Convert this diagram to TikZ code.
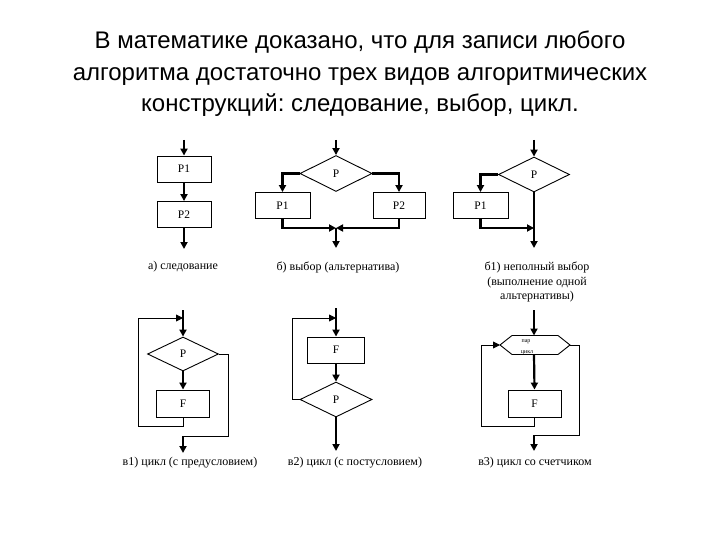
\documentclass[tikz,border=0pt]{standalone}
\usepackage{fontspec}
\setmainfont{Liberation Serif}
\newfontfamily\titlefont{Liberation Sans}
\usetikzlibrary{shapes.geometric,arrows.meta}
\frenchspacing
\begin{document}
\begin{tikzpicture}[x=1pt,y=-1pt,
  blk/.style={draw, line width=0.9pt, minimum width=54pt, minimum height=26pt, inner sep=0pt, font=\fontsize{11.5}{11.5}\selectfont},
  dia/.style={draw, diamond, line width=0.9pt, minimum width=72pt, minimum height=36pt, inner sep=0pt, font=\fontsize{11.5}{11.5}\selectfont},
  thk/.style={line width=2.2pt},
  thn/.style={line width=0.9pt},
  arr/.style={-{Triangle[length=7pt,width=7pt]}},
  lbl/.style={font=\fontsize{12}{14.5}\selectfont, align=center, inner sep=0pt},
  tinyt/.style={font=\fontsize{6}{6}\selectfont, inner sep=0pt}
]
\useasboundingbox (0,0) rectangle (720,540);
\node[font=\titlefont\fontsize{24}{31.5}\selectfont\frenchspacing, align=center] (title) at (360,74)
  {В математике доказано, что для записи любого\\алгоритма достаточно трех видов алгоритмических\\конструкций: следование, выбор, цикл.};

% a) sequence
\coordinate (a0) at (184,140);
\node[blk] (a1) at (184,169) {P1};
\node[blk] (a2) at (184,214.5) {P2};
\coordinate (a3) at (184,249);
\draw[thk,arr] (a0) -- (a1);
\draw[thk,arr] (a1) -- (a2);
\draw[thk,arr] (a2) -- (a3);
\node[lbl] (la) at (183,267) {а) следование};

% b) choice
\coordinate (b0) at (336,140);
\node[dia] (bp) at (336,173.5) {P};
\node[blk, minimum width=55pt] (b1) at (282.5,205.5) {P1};
\node[blk, minimum width=52pt] (b2) at (399,205.5) {P2};
\coordinate (bm) at (336,228);
\coordinate (bo) at (336,248);
\draw[thk,arr] (b0) -- (bp.north);
\draw[thk,arr] (bp.west) -| (b1.north);
\draw[thk,arr] (bp.east) -| (b2.north);
\draw[thk,arr] (b1.south) |- (bm);
\draw[thk,arr] (b2.south) |- (bm);
\draw[thk,arr] (bm) -- (bo);
\node[lbl] (lb) at (338,267) {б) выбор (альтернатива)};

% b1) incomplete choice
\coordinate (c0) at (534,140);
\node[dia, minimum width=71pt, minimum height=35pt] (cp) at (534,174.5) {P};
\node[blk, minimum width=55pt] (c1) at (480.5,205.5) {P1};
\coordinate (cm) at (534,228);
\coordinate (co) at (534,248);
\draw[thk,arr] (c0) -- (cp.north);
\draw[thk,arr] (cp.west) -| (c1.north);
\draw[thk,arr] (c1.south) |- (cm);
\draw[thk,arr] (cp.south) -- (co);
\node[lbl] (lc) at (537,282) {б1) неполный выбор\\(выполнение одной\\альтернативы)};

% v1) pre-condition loop
\coordinate (d0) at (183,310);
\coordinate (dj) at (183,318);
\node[dia, minimum width=71pt, minimum height=34pt] (dp) at (183,354) {P};
\node[blk, minimum width=53pt, minimum height=27pt] (d1) at (183,403.5) {F};
\coordinate (dl) at (138,426);
\coordinate (dr) at (228,436);
\coordinate (dm) at (183,436);
\coordinate (do) at (183,453);
\draw[thk,arr] (d0) -- (dp.north);
\draw[thk,arr] (dp.south) -- (d1.north);
\draw[thn,arr] (d1.south) |- (dl) |- (dj);
\draw[thn] (dp.east) -| (dr) -- (dm);
\draw[thk,arr] (dm) -- (do);
\node[lbl] (ld) at (190,463) {в1) цикл (с предусловием)};

% v2) post-condition loop
\coordinate (e0) at (336,308);
\coordinate (ej) at (336,318);
\node[blk, minimum width=57pt] (e1) at (336,350) {F};
\node[dia, minimum height=35pt] (ep) at (336,399.5) {P};
\coordinate (el) at (292,318);
\coordinate (eo) at (336,451);
\draw[thk,arr] (e0) -- (e1.north);
\draw[thk,arr] (e1.south) -- (ep.north);
\draw[thn] (ep.west) -| (el);
\draw[thn,arr] (el) -- (ej);
\draw[thk,arr] (ep.south) -- (eo);
\node[lbl] (le) at (355,463) {в2) цикл (с постусловием)};

% v3) counter loop
\coordinate (f0) at (534,310);
\coordinate (fl) at (500,345);
\coordinate (fr) at (570,345);
\coordinate (ft) at (534,335.5);
\coordinate (fb) at (534,354.5);
\draw[thn] (fl) -- (512,335.5) -- (558,335.5) -- (fr) -- (558,354.5) -- (512,354.5) -- cycle;
\node[tinyt] (fh1) at (526,342) {пар};
\node[tinyt] (fh2) at (527,353) {цикл};
\node[blk, minimum width=53pt, minimum height=27pt] (f1) at (534.5,403.5) {F};
\coordinate (fll) at (481,426);
\coordinate (frr) at (579,435);
\coordinate (fm) at (534,435);
\coordinate (fo) at (534,451);
\draw[thk,arr] (f0) -- (ft);
\draw[thk,arr] (fb) -- (f1.north);
\draw[thn,arr] (f1.south) |- (fll) |- (fl);
\draw[thn] (fr) -| (frr) -- (fm);
\draw[thk,arr] (fm) -- (fo);
\node[lbl] (lf) at (535,463) {в3) цикл со счетчиком};
\end{tikzpicture}
\end{document}
